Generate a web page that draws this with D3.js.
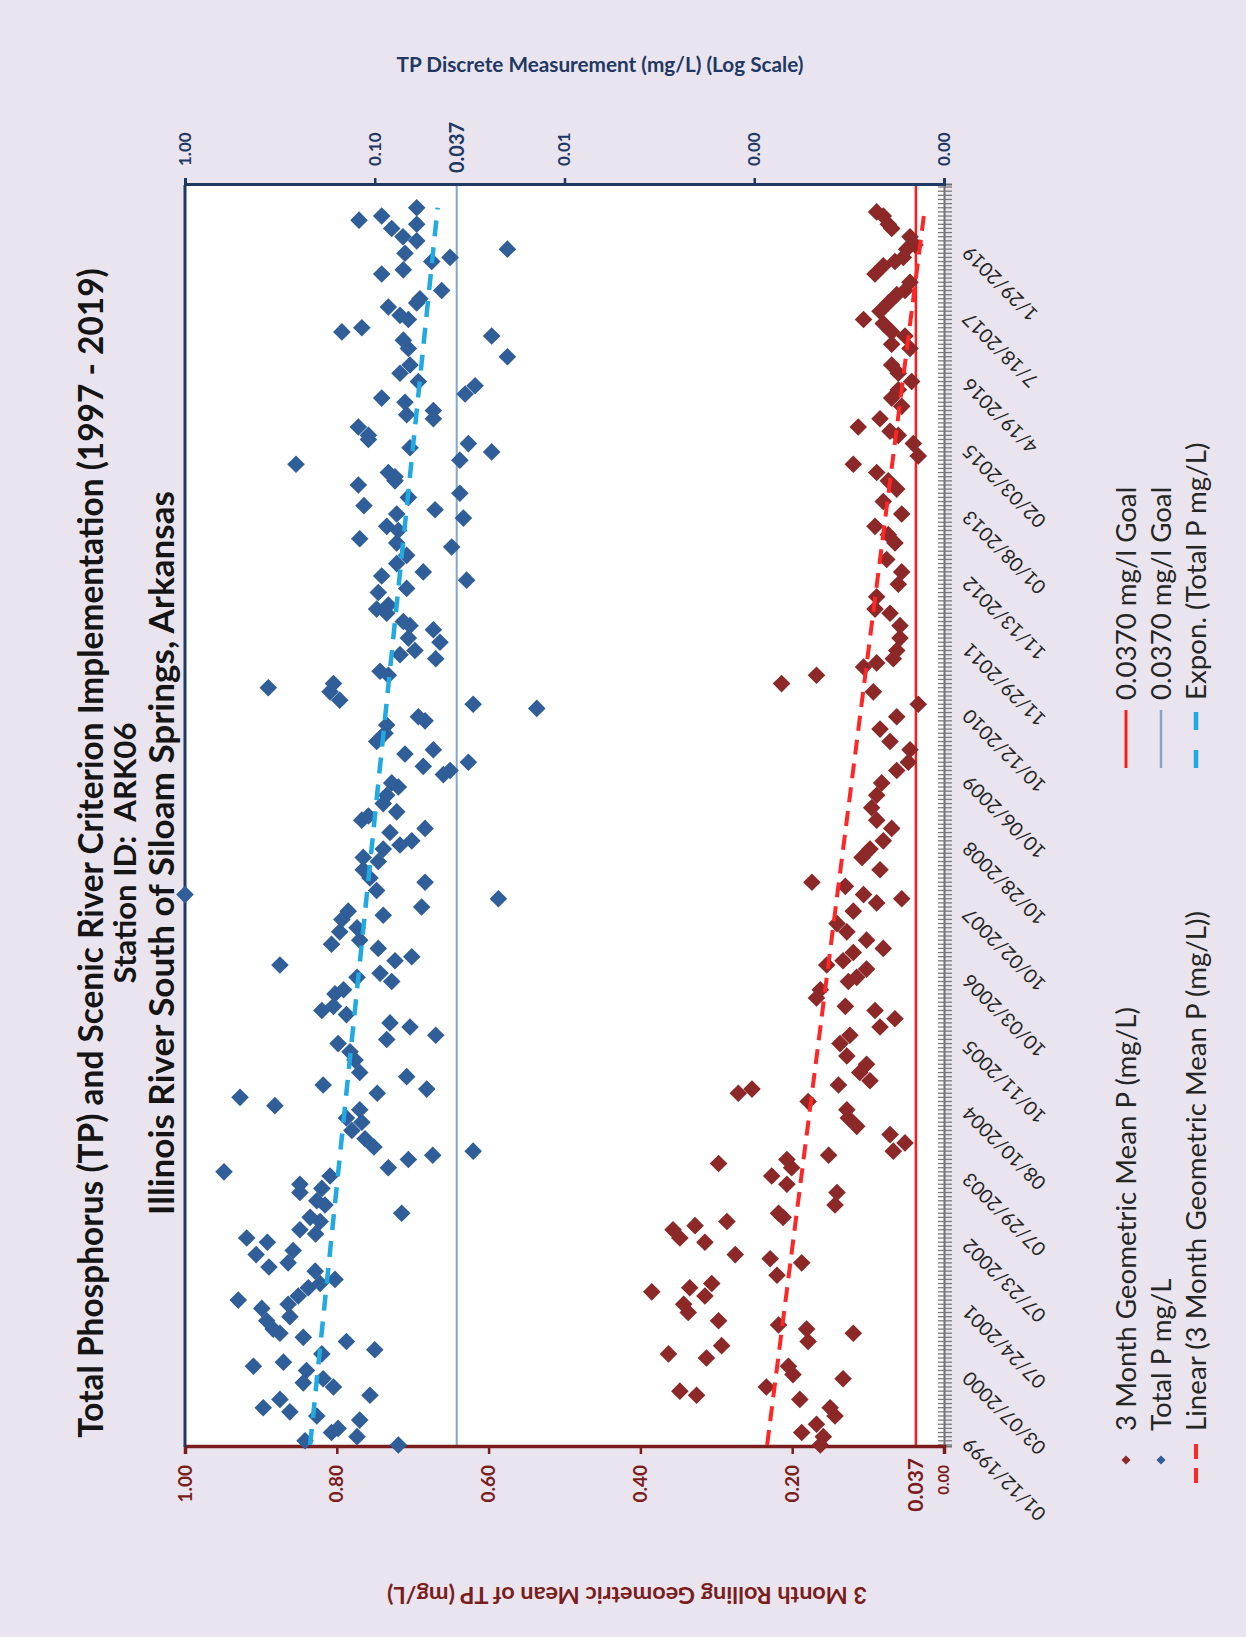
<!DOCTYPE html>
<html>
<head>
<meta charset="utf-8">
<script src="https://cdn.jsdelivr.net/npm/d3@7"></script>
<style>
  html, body { margin: 0; padding: 0; background: #e9e4ee; }
  svg { display: block; }
  text { font-family: Lato, "Open Sans", "Liberation Sans", sans-serif; }
</style>
</head>
<body>
<svg id="chart" width="1246" height="1637"></svg>
<script>
// ---- data ----------------------------------------------------------------
const sampleCount = 305;          // sampling events on the category axis
const labelEvery = 16;            // one date label every n samples
const dateLabels = ["01/12/1999","03/07/2000","07/24/2001","07/23/2002","07/29/2003",
  "08/10/2004","10/11/2005","10/03/2006","10/02/2007","10/28/2008","10/06/2009",
  "10/12/2010","11/29/2011","11/13/2012","01/08/2013","02/03/2015","4/19/2016",
  "7/18/2017","1/29/2019"];
const meanTicks = [0, 0.2, 0.4, 0.6, 0.8, 1];
const tpTicks = [1, 0.1, 0.01, 0.001, 0.0001];
const goalValue = 0.037;

// [sample index, 3 month rolling geometric mean P (mg/L)]
const geoMean = [[0,0.163],[2,0.159],[3,0.1875],[5,0.168],[7,0.1436],[9,0.150],[11,0.190],
  [12,0.326],[13,0.348],[14,0.234],[16,0.133],[17,0.199],[19,0.205],[21,0.313],[22,0.363],
  [24,0.293],[25,0.179],[27,0.1195],[28,0.181],[29,0.218],[30,0.297],[32,0.337],[34,0.343],
  [36,0.315],[37,0.385],[38,0.335],[39,0.306],[41,0.220],[44,0.1875],[45,0.229],[46,0.275],
  [49,0.315],[50,0.348],[52,0.357],[53,0.328],[54,0.286],[55,0.212],[56,0.218],[58,0.1436],
  [61,0.141],[63,0.207],[65,0.227],[67,0.2007],[68,0.297],[69,0.207],[70,0.152],[71,0.0668],
  [73,0.0514],[75,0.0711],[77,0.115],[79,0.126],[81,0.128],[83,0.179],[85,0.271],[86,0.253],
  [87,0.139],[88,0.0975],[90,0.111],[92,0.102],[94,0.128],[97,0.137],[99,0.124],[101,0.0843],
  [103,0.0646],[105,0.0909],[106,0.130],[108,0.168],[110,0.163],[112,0.126],[113,0.115],
  [115,0.102],[116,0.1545],[117,0.133],[119,0.1195],[120,0.08],[122,0.102],[124,0.128],
  [126,0.141],[129,0.1195],[131,0.0887],[132,0.0557],[133,0.106],[135,0.130],[136,0.174],
  [139,0.0843],[142,0.108],[144,0.0975],[146,0.08],[149,0.0689],[151,0.0887],[154,0.0953],
  [157,0.0887],[160,0.0821],[163,0.0623],[165,0.047],[168,0.0448],[170,0.0711],[173,0.0843],
  [176,0.0623],[179,0.0339],[182,0.0931],[184,0.214],[186,0.168],[188,0.106],[189,0.0887],
  [190,0.0668],[192,0.0623],[195,0.058],[198,0.058],[201,0.0711],[202,0.0909],[205,0.0887],
  [208,0.0602],[211,0.0557],[214,0.0755],[218,0.0646],[220,0.0734],[222,0.0909],[225,0.0557],
  [228,0.08],[231,0.0623],[233,0.0734],[235,0.0887],[237,0.1195],[239,0.0339],[242,0.0404],
  [244,0.0602],[245,0.0711],[246,0.113],[248,0.0843],[251,0.0557],[253,0.0689],[255,0.0602],
  [257,0.0426],[259,0.0602],[261,0.0689],[265,0.0448],[266,0.0689],[268,0.0514],[269,0.0689],
  [271,0.08],[272,0.106],[274,0.0843],[276,0.0734],[278,0.0623],[279,0.0514],[281,0.0448],
  [283,0.0909],[285,0.08],[286,0.0646],[287,0.0536],[289,0.0491],[290,0.0382],[292,0.0448],
  [294,0.0689],[295,0.0734],[297,0.08],[298,0.0887]];

// [sample index, total P discrete measurement (mg/L)]
const totalP = [[0,0.0751],[1,0.233],[2,0.124],[3,0.169],[4,0.156],[6,0.120],[7,0.202],
  [8,0.280],[9,0.387],[11,0.316],[12,0.106],[14,0.165],[15,0.238],[16,0.187],[18,0.229],
  [19,0.436],[20,0.303],[22,0.190],[23,0.100],[25,0.141],[26,0.238],[27,0.316],[28,0.343],
  [30,0.371],[31,0.280],[33,0.394],[34,0.286],[35,0.524],[36,0.253],[38,0.224],[39,0.194],
  [40,0.162],[42,0.206],[43,0.361],[44,0.286],[46,0.422],[47,0.269],[49,0.368],[50,0.473],
  [51,0.205],[52,0.248],[54,0.194],[55,0.219],[56,0.0721],[58,0.183],[59,0.202],[61,0.248],
  [62,0.190],[63,0.248],[65,0.172],[66,0.623],[67,0.0848],[69,0.0665],[70,0.0495],[71,0.0303],
  [72,0.101],[74,0.1125],[76,0.132],[78,0.117],[79,0.141],[81,0.120],[82,0.336],[84,0.513],
  [85,0.097],[86,0.0532],[87,0.187],[89,0.0679],[90,0.120],[93,0.127],[95,0.135],[97,0.156],
  [98,0.0865],[99,0.0477],[101,0.0652],[102,0.0831],[104,0.141],[105,0.190],[106,0.165],
  [109,0.162],[110,0.146],[112,0.0814],[113,0.124],[114,0.0938],[116,0.316],[117,0.0782],
  [118,0.0638],[120,0.0958],[121,0.169],[122,0.120],[124,0.153],[125,0.124],[127,0.149],
  [128,0.0902],[129,0.138],[130,0.0566],[132,0.0223],[133,1.0],[134,0.0977],[136,0.0543],
  [137,0.106],[139,0.115],[141,0.0958],[142,0.115],[144,0.0902],[145,0.0736],[146,0.0638],
  [148,0.0831],[149,0.0543],[151,0.117],[152,0.108],[153,0.0766],[155,0.0902],[157,0.0865],
  [159,0.0751],[160,0.0814],[162,0.0435],[163,0.0401],[164,0.0555],[165,0.0321],[167,0.0693],
  [168,0.0491],[170,0.0977],[172,0.0883],[174,0.0865],[175,0.0543],[176,0.0589],[178,0.014],
  [179,0.0303],[180,0.153],[182,0.172],[183,0.364],[184,0.165],[186,0.0848],[187,0.0938],
  [190,0.0477],[191,0.0736],[192,0.0614],[194,0.0453],[195,0.0665],[197,0.0491],[198,0.0652],
  [199,0.0707],[201,0.0865],[202,0.0977],[203,0.0848],[206,0.0958],[207,0.0679],[209,0.0328],
  [210,0.0919],[211,0.0555],[213,0.0766],[215,0.0679],[217,0.0393],[218,0.0766],[219,0.120],
  [221,0.0751],[222,0.0865],[224,0.0341],[225,0.0766],[226,0.0481],[227,0.114],[229,0.0665],
  [230,0.0356],[232,0.122],[233,0.0782],[234,0.0782],[235,0.0848],[237,0.260],[238,0.0356],
  [240,0.0242],[241,0.0652],[242,0.0321],[243,0.108],[244,0.108],[246,0.122],[248,0.0491],
  [249,0.0679],[250,0.0491],[252,0.0693],[253,0.0919],[254,0.0334],[256,0.0296],[257,0.0589],
  [259,0.0736],[261,0.0652],[263,0.02],[265,0.0665],[267,0.0707],[268,0.0242],[269,0.149],
  [270,0.117],[272,0.0665],[273,0.0736],[275,0.0848],[276,0.0601],[277,0.0578],[279,0.0444],
  [283,0.0919],[284,0.0707],[286,0.0501],[287,0.0401],[288,0.0693],[289,0.02],[291,0.0601],
  [292,0.071],[294,0.0814],[295,0.0601],[296,0.121],[297,0.0919],[299,0.0601]];

// ---- layout (chart is laid out landscape, then turned a quarter turn) ----
const PAGE_W = 1246, PAGE_H = 1637;
const plot = { left: 190, right: 1452, top: 185, bottom: 944 };
const C = {
  navy: "#1f3864", maroon: "#7a1d1d", blueMark: "#2f5e98", redMark: "#8c2828",
  goalRed: "#ff1a1a", goalBlue: "#82a6d2", trendBlue: "#21a9e1", trendRed: "#ff2626",
  ink: "#262626", bg: "#e9e4ee"
};

const svg = d3.select("#chart");
svg.append("rect").attr("width", PAGE_W).attr("height", PAGE_H).attr("fill", C.bg);

const g = svg.append("g").attr("transform", `translate(0,${PAGE_H}) rotate(-90)`);

// ---- scales ----
const x = d3.scaleBand().domain(d3.range(sampleCount)).range([plot.left, plot.right]);
const cx = i => x(i) + x.bandwidth() / 2;
const yMean = d3.scaleLinear().domain([0, 1]).range([plot.bottom, plot.top]);
const yTP = d3.scaleLog().domain([0.0001, 1]).range([plot.bottom, plot.top]);

// plot area
g.append("rect").attr("x", plot.left).attr("y", plot.top)
  .attr("width", plot.right - plot.left).attr("height", plot.bottom - plot.top)
  .attr("fill", "#ffffff");

// ---- goal lines ----
g.append("line").attr("x1", plot.left).attr("x2", plot.right)
  .attr("y1", yMean(goalValue)).attr("y2", yMean(goalValue))
  .attr("stroke", C.goalRed).attr("stroke-width", 2.5);
g.append("line").attr("x1", plot.left).attr("x2", plot.right)
  .attr("y1", yTP(goalValue)).attr("y2", yTP(goalValue))
  .attr("stroke", C.goalBlue).attr("stroke-width", 2);

// ---- category axis: a tick on every sample, a date every labelEvery samples ----
const hatch = g.append("g").attr("transform", `translate(0,${plot.bottom})`)
  .call(d3.axisBottom(x).tickValues(d3.range(sampleCount)).tickSize(8).tickFormat(""));
hatch.select(".domain").attr("stroke", "#707070").attr("stroke-width", 2);
hatch.selectAll(".tick line").attr("y1", -6).attr("stroke", "#7a7a7a").attr("stroke-width", 1.3);

const labelIdx = d3.range(0, dateLabels.length).map(k => k * labelEvery);
const dates = g.append("g").attr("transform", `translate(0,${plot.bottom})`)
  .call(d3.axisBottom(x).tickValues(labelIdx).tickSize(0)
    .tickFormat(i => dateLabels[i / labelEvery]));
dates.select(".domain").remove();
dates.selectAll(".tick text")
  .attr("fill", C.ink).attr("font-size", 19.5).attr("text-anchor", "end")
  .attr("dy", "0.35em").attr("y", 0)
  .attr("transform", "translate(4,22) rotate(-45)");

// ---- 3 month mean axis (linear) ----
const meanAxis = g.append("g").attr("transform", `translate(${plot.left},0)`)
  .call(d3.axisLeft(yMean).tickValues(meanTicks).tickFormat(d3.format(".2f")).tickSize(7).tickPadding(11));
meanAxis.select(".domain").attr("stroke", C.maroon).attr("stroke-width", 3.5);
meanAxis.selectAll(".tick line").attr("stroke", C.maroon).attr("stroke-width", 2.5);
meanAxis.selectAll(".tick text").attr("fill", C.maroon).attr("font-weight", 700)
  .attr("font-size", d => d === 0 ? 15 : 19);
meanAxis.append("text").attr("x", -11).attr("y", yMean(goalValue)).attr("dy", "0.35em")
  .attr("text-anchor", "end").attr("fill", C.maroon).attr("font-weight", 700)
  .attr("font-size", 21).text("0.037");

// ---- discrete measurement axis (log) ----
const tpAxis = g.append("g").attr("transform", `translate(${plot.right},0)`)
  .call(d3.axisRight(yTP).tickValues(tpTicks).tickFormat(d3.format(".2f")).tickSize(7).tickPadding(12));
tpAxis.select(".domain").attr("stroke", C.navy).attr("stroke-width", 3);
tpAxis.selectAll(".tick line").attr("stroke", C.navy).attr("stroke-width", 2.5);
tpAxis.selectAll(".tick text").attr("fill", C.navy).attr("font-weight", 700).attr("font-size", 17);
tpAxis.append("text").attr("x", 12).attr("y", yTP(goalValue)).attr("dy", "0.35em")
  .attr("fill", C.navy).attr("font-weight", 700).attr("font-size", 20).text("0.037");

// border along the upper edge of the plot
g.append("line").attr("x1", plot.left).attr("x2", plot.right)
  .attr("y1", plot.top).attr("y2", plot.top)
  .attr("stroke", C.navy).attr("stroke-width", 3);

// ---- markers ----
const diamond = d3.symbol().type(d3.symbolSquare).size(155)();
g.append("g").selectAll("path").data(geoMean).join("path")
  .attr("d", diamond).attr("fill", C.redMark)
  .attr("transform", d => `translate(${cx(d[0])},${yMean(d[1])}) rotate(45)`);
g.append("g").selectAll("path").data(totalP).join("path")
  .attr("d", diamond).attr("fill", C.blueMark)
  .attr("transform", d => `translate(${cx(d[0])},${yTP(d[1])}) rotate(45)`);

// ---- trend lines (least squares) ----
function fit(pts) {
  const mx = d3.mean(pts, d => d[0]), my = d3.mean(pts, d => d[1]);
  let sxy = 0, sxx = 0;
  pts.forEach(([a, b]) => { sxy += (a - mx) * (b - my); sxx += (a - mx) * (a - mx); });
  const m = sxy / sxx;
  return { m, b: my - m * mx };
}
const lin = fit(geoMean);
const expo = fit(totalP.map(([i, v]) => [i, Math.log(v)]));
const span = d3.extent(geoMean.concat(totalP), d => d[0]);

g.append("path")
  .datum(span.map(i => [i, lin.b + lin.m * i]))
  .attr("d", d3.line().x(d => cx(d[0])).y(d => yMean(d[1])))
  .attr("fill", "none").attr("stroke", C.trendRed).attr("stroke-width", 4)
  .attr("stroke-dasharray", "15,9");
g.append("path")
  .datum(span.map(i => [i, Math.exp(expo.b + expo.m * i)]))
  .attr("d", d3.line().x(d => cx(d[0])).y(d => yTP(d[1])))
  .attr("fill", "none").attr("stroke", C.trendBlue).attr("stroke-width", 4.5)
  .attr("stroke-dasharray", "16,11");

// ---- text sizing helper: scale a label's font so it spans a given length ----
function fitTo(sel, len) {
  const node = sel.node();
  const fs = parseFloat(sel.attr("font-size"));
  sel.attr("font-size", (fs * len / node.getComputedTextLength()).toFixed(2));
  return sel;
}

// ---- titles ----
const titleX = 784;
[["Total Phosphorus (TP) and Scenic River Criterion Implementation (1997 - 2019)", 91, 1170],
 ["Station ID:  ARK06", 125, 261],
 ["Illinois River South of Siloam Springs, Arkansas", 162, 724]].forEach(([t, yy, len]) => {
  const el = g.append("text").attr("x", titleX).attr("y", yy).attr("dy", "0.35em")
    .attr("text-anchor", "middle").attr("font-weight", 700).attr("font-size", 28)
    .attr("fill", "#151515").style("white-space", "pre").text(t);
  fitTo(el, len);
});

// axis titles
fitTo(g.append("text").attr("transform", `translate(1572,600) rotate(90)`)
  .attr("text-anchor", "middle").attr("dy", "0.35em").attr("font-weight", 700)
  .attr("font-size", 20).attr("fill", C.navy)
  .text("TP Discrete Measurement (mg/L) (Log Scale)"), 407);
fitTo(g.append("text").attr("transform", `translate(42,627) rotate(-90)`)
  .attr("text-anchor", "middle").attr("dy", "0.35em").attr("font-weight", 700)
  .attr("font-size", 20).attr("fill", C.maroon)
  .text("3 Month Rolling Geometric Mean of TP (mg/L)"), 480);

// ---- legend ----
const legRows = [1126, 1161, 1196];
const legend = g.append("g");
const smallDiamond = d3.symbol().type(d3.symbolSquare).size(42)();
legend.append("path").attr("d", smallDiamond).attr("fill", C.redMark)
  .attr("transform", `translate(177,${legRows[0]}) rotate(45)`);
legend.append("path").attr("d", smallDiamond).attr("fill", C.blueMark)
  .attr("transform", `translate(177,${legRows[1]}) rotate(45)`);
legend.append("line").attr("x1", 154).attr("x2", 198).attr("y1", legRows[2]).attr("y2", legRows[2])
  .attr("stroke", C.trendRed).attr("stroke-width", 4).attr("stroke-dasharray", "15,9");
legend.append("line").attr("x1", 869).attr("x2", 927).attr("y1", legRows[0]).attr("y2", legRows[0])
  .attr("stroke", C.goalRed).attr("stroke-width", 3);
legend.append("line").attr("x1", 869).attr("x2", 927).attr("y1", legRows[1]).attr("y2", legRows[1])
  .attr("stroke", C.goalBlue).attr("stroke-width", 2.5);
legend.append("line").attr("x1", 869).attr("x2", 927).attr("y1", legRows[2]).attr("y2", legRows[2])
  .attr("stroke", C.trendBlue).attr("stroke-width", 4.5).attr("stroke-dasharray", "18,20");

const legItems = [
  ["3 Month Geometric Mean P (mg/L)", 206, legRows[0]],
  ["Total P mg/L", 206, legRows[1]],
  ["Linear (3 Month Geometric Mean P (mg/L))", 206, legRows[2]],
  ["0.0370 mg/l Goal", 937, legRows[0]],
  ["0.0370 mg/l Goal", 937, legRows[1]],
  ["Expon. (Total P mg/L)", 937, legRows[2]]
];
const legText = legend.selectAll("text.leg").data(legItems).join("text").attr("class", "leg")
  .attr("x", d => d[1]).attr("y", d => d[2]).attr("dy", "0.35em")
  .attr("font-size", 20).attr("fill", C.ink).text(d => d[0]);
// one common size, set by the longest first-column entry
const ref = legText.filter((d, i) => i === 0);
const legSize = 20 * 424 / ref.node().getComputedTextLength();
legText.attr("font-size", legSize.toFixed(2));
</script>
</body>
</html>
